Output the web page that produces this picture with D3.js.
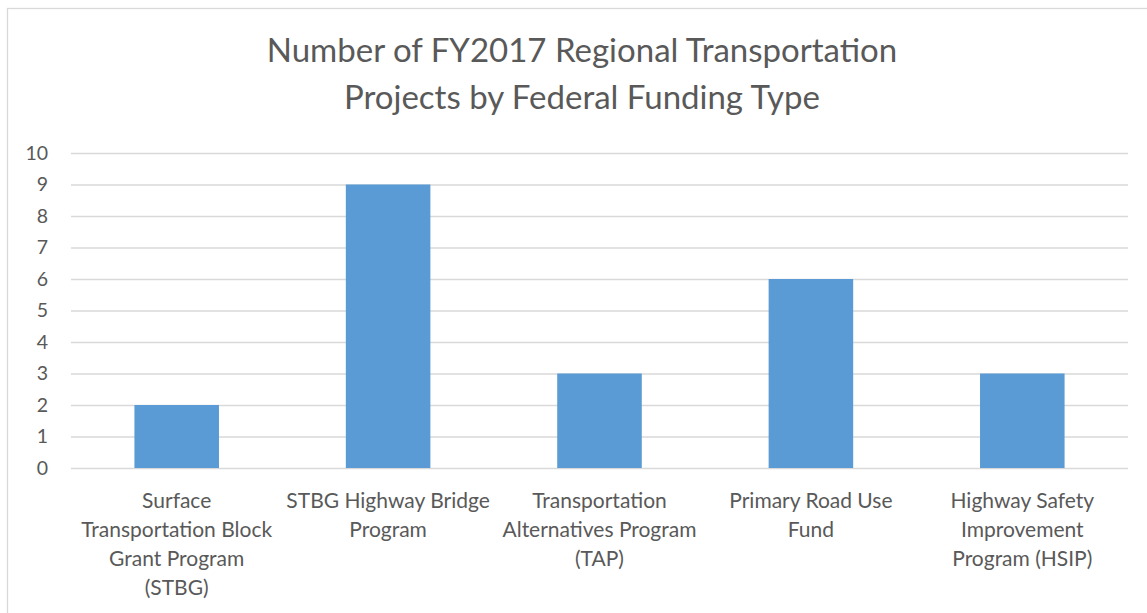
<!DOCTYPE html>
<html><head><meta charset="utf-8">
<script src="https://cdn.jsdelivr.net/npm/d3@7"></script>
<style>body{margin:0;background:#fff}svg{display:block}text{font-family:Lato,"Open Sans",sans-serif;fill:#595959}</style>
</head><body><svg id="c" width="1147" height="613"></svg>
<script>
const categories = [
  ["Surface","Transportation Block","Grant Program","(STBG)"],
  ["STBG Highway Bridge","Program"],
  ["Transportation","Alternatives Program","(TAP)"],
  ["Primary Road Use","Fund"],
  ["Highway Safety","Improvement","Program (HSIP)"]
];
const values = [2, 9, 3, 6, 3];
const yTicks = [0,1,2,3,4,5,6,7,8,9,10];
const titleLines = ["Number of FY2017 Regional Transportation","Projects by Federal Funding Type"];

const svg = d3.select("#c");
const m = {left:71, right:1128, top:153, bottom:468};
svg.append("rect").attr("x",7.5).attr("y",8.5).attr("width",1150).attr("height",620)
  .attr("fill","#fff").attr("stroke","#d9d9d9").attr("stroke-width",1.3);

const x = d3.scaleBand().domain(d3.range(categories.length)).range([m.left,m.right]).padding(0);
const y = d3.scaleLinear().domain([0,10]).range([m.bottom,m.top]);

const yAxis = svg.append("g").attr("transform",`translate(${m.left},0)`)
  .call(d3.axisLeft(y).tickValues(yTicks).tickSize(-(m.right-m.left)).tickPadding(23));
yAxis.select(".domain").remove();
yAxis.selectAll(".tick line").attr("stroke","#d9d9d9").attr("stroke-width",1.5);
yAxis.selectAll(".tick text").attr("font-size",19.5).attr("fill","#595959").style("font-family","Lato");

const bw = x.bandwidth()*0.4;
svg.append("g").selectAll("rect").data(values).join("rect")
  .attr("x",(d,i)=>x(i)+x.bandwidth()/2-bw/2)
  .attr("y",d=>y(d)).attr("width",bw).attr("height",d=>y(0)-y(d))
  .attr("fill","#5b9bd5");

const lab = svg.append("g");
categories.forEach((lines,i)=>{
  const t = lab.append("text").attr("text-anchor","middle").attr("font-size",21);
  lines.forEach((l,j)=>t.append("tspan").attr("x",x(i)+x.bandwidth()/2).attr("y",508+j*29).text(l));
});

const tt = svg.append("text").attr("text-anchor","middle").attr("font-size",33);
titleLines.forEach((l,j)=>tt.append("tspan").attr("x",582).attr("y",62+j*47).text(l));
</script></body></html>
